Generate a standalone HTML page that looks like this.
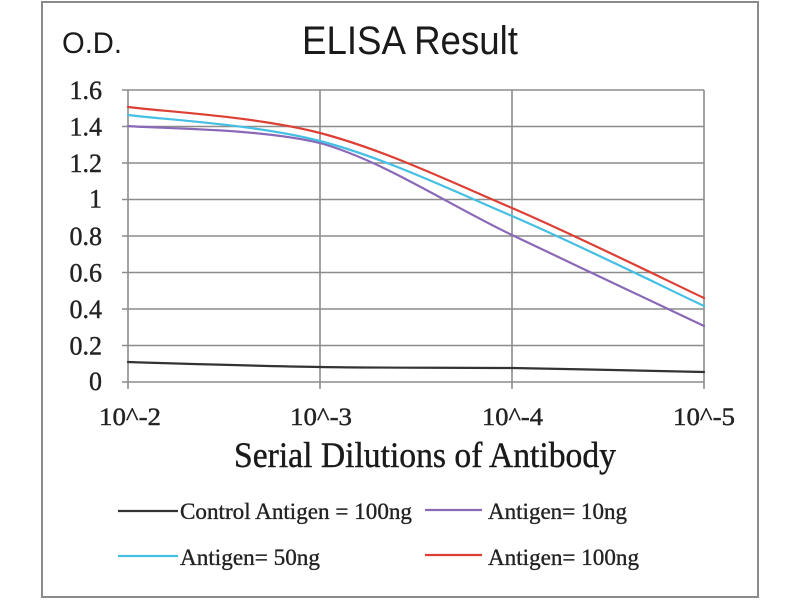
<!DOCTYPE html>
<html>
<head>
<meta charset="utf-8">
<style>
html,body{margin:0;padding:0;background:#fff;}
svg{display:block;}
</style>
</head>
<body>
<svg width="800" height="600" viewBox="0 0 800 600" xmlns="http://www.w3.org/2000/svg">
<rect x="0" y="0" width="800" height="600" fill="#fff"/>
<rect x="42" y="2" width="716" height="595" fill="#fff" stroke="#8a8a8a" stroke-width="2"/>

<!-- title -->
<text x="302" y="54" font-family="'Liberation Sans', sans-serif" font-size="40" fill="#1a1a1a" textLength="216" lengthAdjust="spacingAndGlyphs">ELISA Result</text>
<text x="62" y="53" font-family="'Liberation Sans', sans-serif" font-size="30" fill="#1a1a1a" textLength="60" lengthAdjust="spacingAndGlyphs">O.D.</text>

<!-- horizontal gridlines -->
<g stroke="#8c8c8c" stroke-width="1.6">
<line x1="122" y1="90" x2="704" y2="90"/>
<line x1="122" y1="126.5" x2="704" y2="126.5"/>
<line x1="122" y1="163" x2="704" y2="163"/>
<line x1="122" y1="199.5" x2="704" y2="199.5"/>
<line x1="122" y1="236" x2="704" y2="236"/>
<line x1="122" y1="272.5" x2="704" y2="272.5"/>
<line x1="122" y1="309" x2="704" y2="309"/>
<line x1="122" y1="345.5" x2="704" y2="345.5"/>
<line x1="122" y1="382" x2="704" y2="382"/>
<!-- vertical -->
<line x1="128" y1="90" x2="128" y2="389"/>
<line x1="320" y1="90" x2="320" y2="389"/>
<line x1="512" y1="90" x2="512" y2="389"/>
<line x1="704" y1="90" x2="704" y2="389"/>
</g>

<!-- y labels -->
<g font-family="'Liberation Serif', serif" font-size="26" fill="#222" stroke="#222" stroke-width="0.4" text-anchor="end">
<text x="102" y="99">1.6</text>
<text x="102" y="135.5">1.4</text>
<text x="102" y="172">1.2</text>
<text x="102" y="207.5">1</text>
<text x="102" y="245">0.8</text>
<text x="102" y="281.5">0.6</text>
<text x="102" y="318">0.4</text>
<text x="102" y="354.5">0.2</text>
<text x="102" y="390">0</text>
</g>

<!-- x labels -->
<g font-family="'Liberation Serif', serif" font-size="25" fill="#222" stroke="#222" stroke-width="0.4">
<text x="99" y="425" textLength="62" lengthAdjust="spacingAndGlyphs">10^-2</text>
<text x="290" y="425" textLength="62" lengthAdjust="spacingAndGlyphs">10^-3</text>
<text x="482" y="425" textLength="61" lengthAdjust="spacingAndGlyphs">10^-4</text>
<text x="673" y="425" textLength="62" lengthAdjust="spacingAndGlyphs">10^-5</text>
</g>

<text x="234" y="467" font-family="'Liberation Serif', serif" font-size="36" fill="#1a1a1a" stroke="#1a1a1a" stroke-width="0.4" textLength="382" lengthAdjust="spacingAndGlyphs">Serial Dilutions  of Antibody</text>

<!-- series -->
<g fill="none" stroke-width="2.2" stroke-linecap="round">
<path d="M128,362 C160,363 256,366 320,367 C384,368 448,367.5 512,368 C576,369 672,371.5 704,372" stroke="#333333"/>
<path d="M128,126 C160,128.8 256,128 320,143 C384,161.2 448,204.5 512,235 C576,265.5 672,310.8 704,326" stroke="#8a68b8"/>
<path d="M128,115 C160,119.3 256,124.2 320,141 C384,157.8 448,188.5 512,216 C576,243.5 672,291 704,306" stroke="#45bfe3"/>
<path d="M128,107 C160,111.3 256,116.2 320,133 C384,149.8 448,180.5 512,208 C576,235.5 672,283 704,298" stroke="#dd3f35"/>
</g>

<!-- legend -->
<g stroke-width="2.2">
<line x1="118" y1="511" x2="178" y2="511" stroke="#333333"/>
<line x1="425" y1="510" x2="482" y2="510" stroke="#8a68b8"/>
<line x1="118" y1="556" x2="178" y2="556" stroke="#45bfe3"/>
<line x1="425" y1="555" x2="482" y2="555" stroke="#dd3f35"/>
</g>
<g font-family="'Liberation Serif', serif" font-size="23" fill="#222" stroke="#222" stroke-width="0.35">
<text x="180" y="519" textLength="232" lengthAdjust="spacingAndGlyphs">Control Antigen = 100ng</text>
<text x="488" y="519" textLength="139" lengthAdjust="spacingAndGlyphs">Antigen= 10ng</text>
<text x="180" y="565" textLength="140" lengthAdjust="spacingAndGlyphs">Antigen= 50ng</text>
<text x="488" y="565" textLength="151" lengthAdjust="spacingAndGlyphs">Antigen= 100ng</text>
</g>
</svg>
</body>
</html>
